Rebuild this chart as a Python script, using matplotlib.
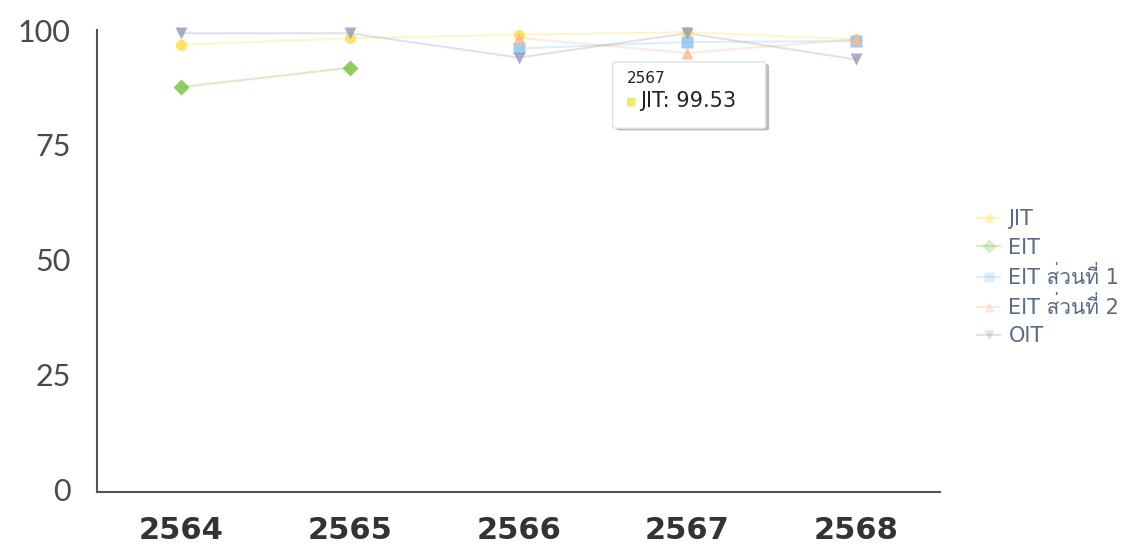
import numpy as np
from matplotlib import pyplot as plt
from matplotlib import font_manager
from matplotlib.ft2font import FT2Font
from matplotlib.patches import FancyBboxPatch

# pick a font that has Thai glyphs for the legend
thai_font = None
for f in font_manager.fontManager.ttflist:
    try:
        if FT2Font(f.fname).get_char_index(ord('ส')):
            thai_font = f.name
            break
    except Exception:
        pass
legend_family = ['DejaVu Sans'] + ([thai_font] if thai_font else [])

years = ['2564', '2565', '2566', '2567', '2568']
yticks = [0, 25, 50, 75, 100]

jit = [96.8, 98.2, 99.0, 99.53, 98.0]
eit = [87.6, 91.8, np.nan, np.nan, np.nan]
eit_part1 = [np.nan, np.nan, 96.0, 97.4, 97.6]
eit_part2 = [np.nan, np.nan, 98.3, 95.0, 98.0]
oit = [99.3, 99.3, 94.0, 99.3, 93.6]

series = [
    ('JIT', jit, '#fde047', 'o'),
    ('EIT', eit, '#7cc544', 'D'),
    ('EIT ส่วนที่ 1', eit_part1, '#8ec5f2', 's'),
    ('EIT ส่วนที่ 2', eit_part2, '#fbb98f', '^'),
    ('OIT', oit, '#9a9cc0', 'v'),
]

fig = plt.figure(figsize=(11.41, 5.48), dpi=100)
ax = fig.add_axes([0.085, 0.1022, 0.739, 0.843])
x = np.arange(len(years))

handles = []
for name, vals, col, mk in series:
    ax.plot(x, vals, color=col, lw=1.5, alpha=0.3, zorder=2)
    ax.plot(x, vals, ls='none', marker=mk, ms=8, color=col, alpha=0.85,
            mec='none', zorder=3, clip_on=False)
    h, = ax.plot([], [], color=col, lw=1.5, alpha=0.3, marker=mk, ms=7,
                 mfc=col, mec='none', label=name)
    handles.append(h)

ax.set_xlim(-0.5, 4.5)
ax.set_ylim(-0.5, 99.5)
ax.set_xticks(x)
ax.set_xticklabels(years, fontsize=22, fontweight='bold', color='#333333')
ax.set_yticks(yticks)
ax.set_yticklabels([str(v) for v in yticks], fontsize=22, color='#4a4a4a',
                   family=['Lato', 'DejaVu Sans'])
ax.tick_params(length=0, pad=19)
ax.tick_params(axis='x', pad=17)
for s in ['top', 'right']:
    ax.spines[s].set_visible(False)
for s in ['left', 'bottom']:
    ax.spines[s].set_color('#555555')
    ax.spines[s].set_linewidth(1.5)

leg = fig.legend(handles=handles, loc='center left', bbox_to_anchor=(0.84, 0.493),
                 frameon=False, handlelength=1.1, handletextpad=0.4, labelspacing=0.4,
                 prop={'family': legend_family, 'size': 15})
for t in leg.get_texts():
    t.set_color('#5b6a86')

# hover tooltip
shadow = FancyBboxPatch((0.540, 0.762), 0.134, 0.121, boxstyle='round,pad=0.0,rounding_size=0.003',
                        transform=fig.transFigure, fc='#bbbbbb', ec='none', zorder=4)
box = FancyBboxPatch((0.537, 0.766), 0.134, 0.121, boxstyle='round,pad=0.0,rounding_size=0.003',
                     transform=fig.transFigure, fc='white', ec='#e2e2e2', lw=1, zorder=5)
fig.patches.extend([shadow, box])
fig.text(0.549, 0.857, '2567', fontsize=11, color='#222222', va='center', zorder=6)
fig.text(0.549, 0.815, '■', fontsize=8, color='#f3ea6a', va='center', zorder=6)
fig.text(0.561, 0.815, 'JIT: 99.53', fontsize=15, color='#222222', va='center', zorder=6)

fig.savefig('out.png', dpi=100)
